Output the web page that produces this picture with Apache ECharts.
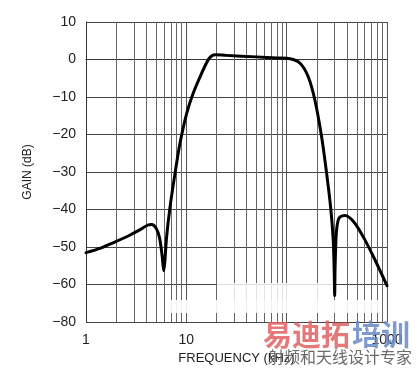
<!DOCTYPE html>
<html><head><meta charset="utf-8">
<script src="https://cdn.jsdelivr.net/npm/echarts@6/dist/echarts.min.js"></script>
<style>html,body{margin:0;padding:0;background:#fff}#c{width:417px;height:375px}</style>
</head><body><div id="c"></div>
<script>
const freqKHz = [1, 1.4, 1.86, 2.75, 3.5, 4.1, 4.5, 5.0, 5.4, 5.75, 5.95, 6.1, 6.36, 6.88, 7.72, 8.65, 10.1, 11.7, 14.2, 16.5, 18, 19.3, 25, 50, 80, 108, 136, 164, 191, 223, 250, 274, 291, 298, 301, 304, 313, 325, 340, 380, 463, 580, 733, 1000];
const gainDB = [-51.5, -50.3, -48.9, -46.8, -45.3, -44.2, -44.0, -45.0, -47.5, -52.5, -56.3, -54.0, -47.3, -39.3, -30.3, -22.3, -14.3, -9.0, -3.7, -0.1, 1.0, 1.3, 1.1, 0.7, 0.4, 0.2, -1.0, -4.6, -10.8, -20.6, -30.3, -39.3, -48.1, -57.0, -63.0, -55.0, -46.0, -43.0, -42.0, -41.6, -43.2, -47.3, -52.6, -60.3];
const xTickValues = [1, 10, 1000];
const yTickValues = [-70, -60, -50, -40, -30, -20, -10, 0, 10];
const yTickLabels = ['\u221280', '\u221260', '\u221250', '\u221240', '\u221230', '\u221220', '\u221210', '0', '10'];
const minorGridFreqs = [2, 3, 4, 5, 6, 7, 8, 9, 20, 30, 40, 50, 60, 70, 80, 90, 200, 300, 400, 500, 600, 700, 800, 900];
const xAxisTitle = 'FREQUENCY (kHz)';
const yAxisTitle = 'GAIN (dB)';

const chart = echarts.init(document.getElementById('c'), null, {renderer: 'canvas'});
const font = '"Liberation Sans", Arial, sans-serif';
chart.setOption({
  animation: false,
  grid: {left: 86, top: 22, right: 30, bottom: 53},
  xAxis: {
    type: 'log', logBase: 10, min: 1, max: 1000,
    name: xAxisTitle, nameLocation: 'middle', nameGap: 27,
    nameTextStyle: {fontFamily: font, fontSize: 13, color: '#222'},
    axisLine: {show: true, lineStyle: {color: '#333', width: 1}},
    axisTick: {show: false},
    axisLabel: {fontFamily: font, fontSize: 14, color: '#222', margin: 11,
      formatter: v => xTickValues.some(t => Math.abs(t - v) < 1e-6) ? String(v) : ''},
    splitLine: {show: true, lineStyle: {color: '#555', width: 1}}
  },
  yAxis: {
    type: 'value', min: -70, max: 10, interval: 10,
    name: yAxisTitle, nameLocation: 'middle', nameGap: 52,
    nameTextStyle: {fontFamily: font, fontSize: 12, color: '#222'},
    axisLine: {show: true, lineStyle: {color: '#333', width: 1}},
    axisTick: {show: false},
    axisLabel: {fontFamily: font, fontSize: 14, color: '#222', margin: 10,
      formatter: v => { const i = yTickValues.indexOf(v); return i >= 0 ? yTickLabels[i] : ''; }},
    splitLine: {show: true, lineStyle: {color: '#444', width: 1}}
  },
  series: [{
    type: 'line',
    data: freqKHz.map((f, i) => [f, gainDB[i]]),
    showSymbol: false, smooth: 0.3,
    lineStyle: {color: '#000', width: 3, join: 'round', cap: 'round'},
    z: 5,
    markLine: {
      silent: true, symbol: 'none', label: {show: false},
      lineStyle: {color: '#666', width: 1, type: 'solid'},
      animation: false,
      data: minorGridFreqs.map(f => ({xAxis: f}))
    }
  }],
  graphic: [
    {type: 'rect', shape: {x: 217, y: 283, width: 116, height: 17}, style: {fill: 'rgba(255,255,255,0.82)'}, z: 100},
    {type: 'rect', shape: {x: 165, y: 300, width: 217, height: 13}, style: {fill: 'rgba(255,255,255,0.9)'}, z: 100},
    {type: 'text', left: 263, top: 320, z: 110, style: {text: '易迪拓', fill: 'rgba(224,96,96,0.85)', font: 'bold 29px "Noto Sans CJK SC"'}},
    {type: 'text', left: 352, top: 320, z: 110, style: {text: '培训', fill: 'rgba(104,138,196,0.85)', font: 'bold 29px "Noto Sans CJK SC"'}},
    {type: 'text', left: 268, top: 349, z: 110, style: {text: '射频和天线设计专家', fill: '#6a6a6a', font: '16px "Noto Sans CJK SC"'}}
  ]
});
</script>
</body></html>
